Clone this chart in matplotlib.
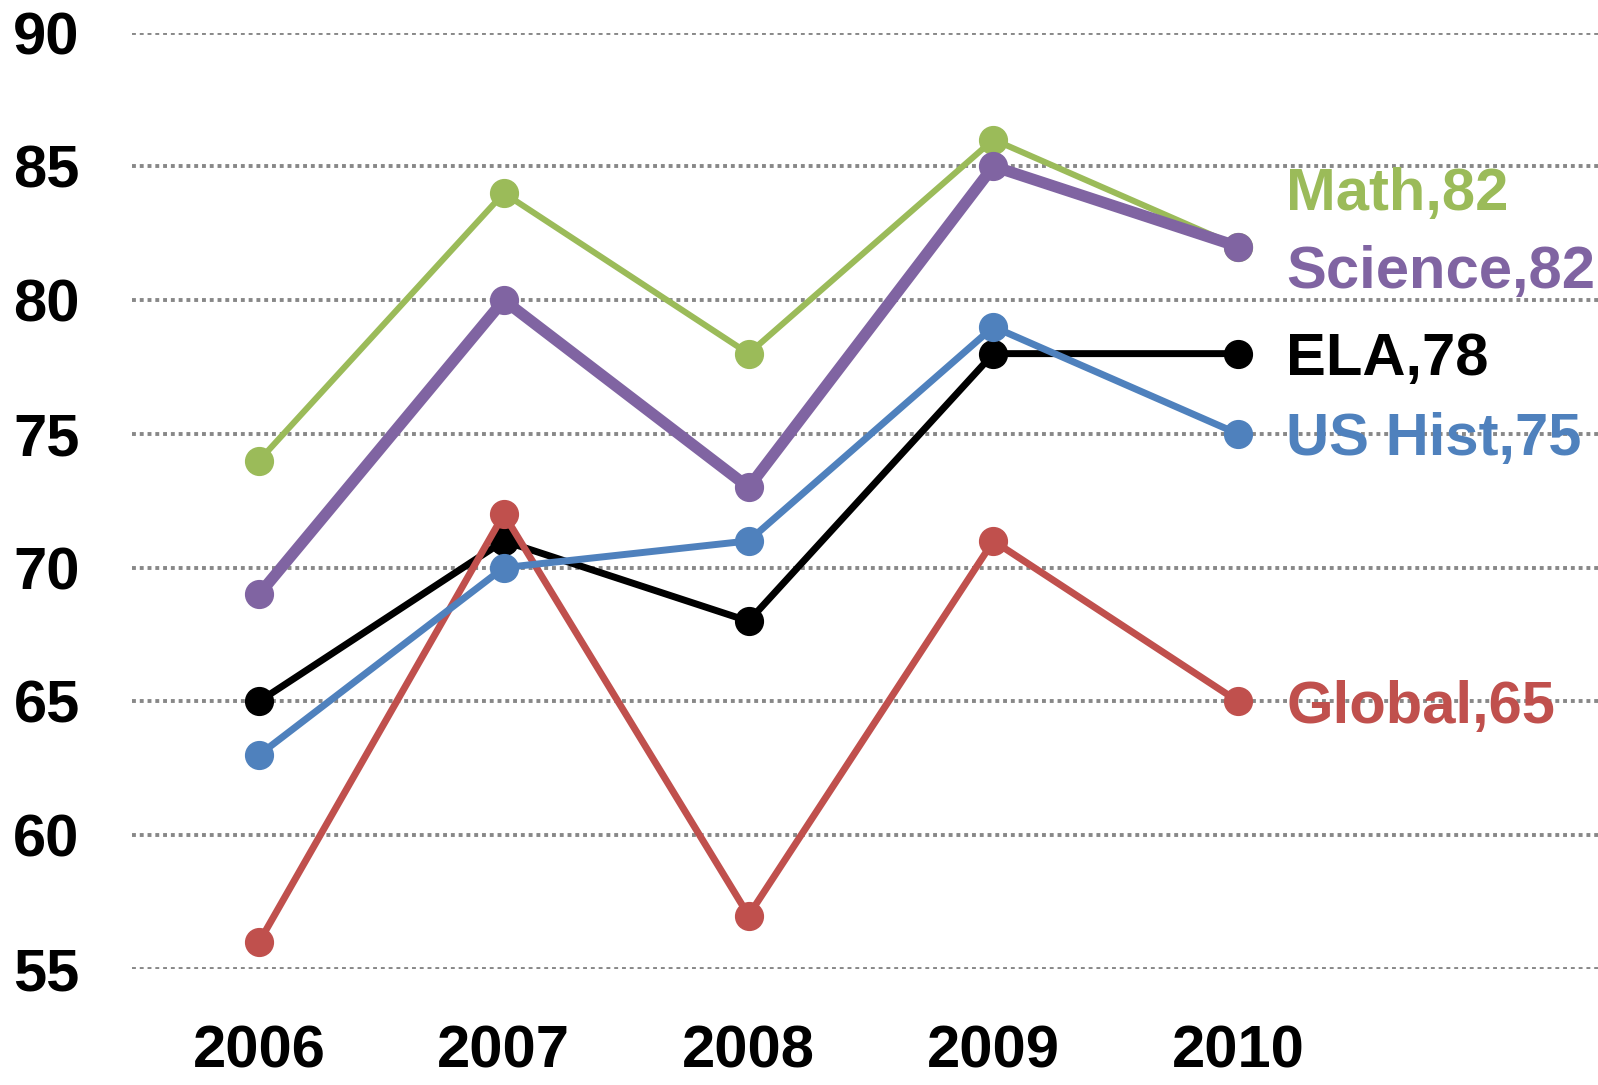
import numpy as np
import matplotlib
matplotlib.use("Agg")
import matplotlib.pyplot as plt

plt.rcParams['font.family'] = ['Liberation Sans', 'DejaVu Sans']

years = ["2006", "2007", "2008", "2009", "2010"]
math_scores = [74, 84, 78, 86, 82]
science_scores = [69, 80, 73, 85, 82]
ela_scores = [65, 71, 68, 78, 78]
ushist_scores = [63, 70, 71, 79, 75]
global_scores = [56, 72, 57, 71, 65]
y_ticks = [55, 60, 65, 70, 75, 80, 85, 90]

# name, values, colour, line width, label shift (points)
series = [
    ("ELA", ela_scores, "#000000", 5.0, 0),
    ("Global", global_scores, "#C0504D", 5.0, 0),
    ("US Hist", ushist_scores, "#4F81BD", 5.0, 0),
    ("Math", math_scores, "#9BBB59", 4.4, 42),
    ("Science", science_scores, "#8064A2", 8.2, -14),
]

fig = plt.figure(figsize=(15.98, 10.85), dpi=100)
ax = fig.add_axes([0.0829, 0.1069, 0.9171, 0.8631])

x = np.arange(len(years))
for name, vals, col, lw, shift in series:
    ax.plot(x, vals, color=col, lw=lw, marker="o", markersize=20,
            solid_joinstyle="miter", zorder=3)
    ax.annotate("%s,%d" % (name, vals[-1]), xy=(x[-1], vals[-1]),
                xytext=(34.5, shift), textcoords="offset points",
                color=col, fontsize=43, fontweight="bold",
                ha="left", va="center_baseline", zorder=4)

ax.set_xlim(-0.517, 5.47)
ax.set_ylim(55, 90)
ax.set_yticks(y_ticks)
ax.set_xticks(x)
ax.set_xticklabels(years)
ax.grid(axis="y", color="#888888", lw=2.8, linestyle=(0, (1, 1)), zorder=0)
ax.set_axisbelow(True)
for s in ax.spines.values():
    s.set_visible(False)
ax.tick_params(axis="both", length=0, labelsize=43)
ax.tick_params(axis="y", pad=38)
ax.tick_params(axis="x", pad=40)
for lab in ax.get_xticklabels() + ax.get_yticklabels():
    lab.set_fontweight("bold")

fig.savefig("out.png", dpi=100)
